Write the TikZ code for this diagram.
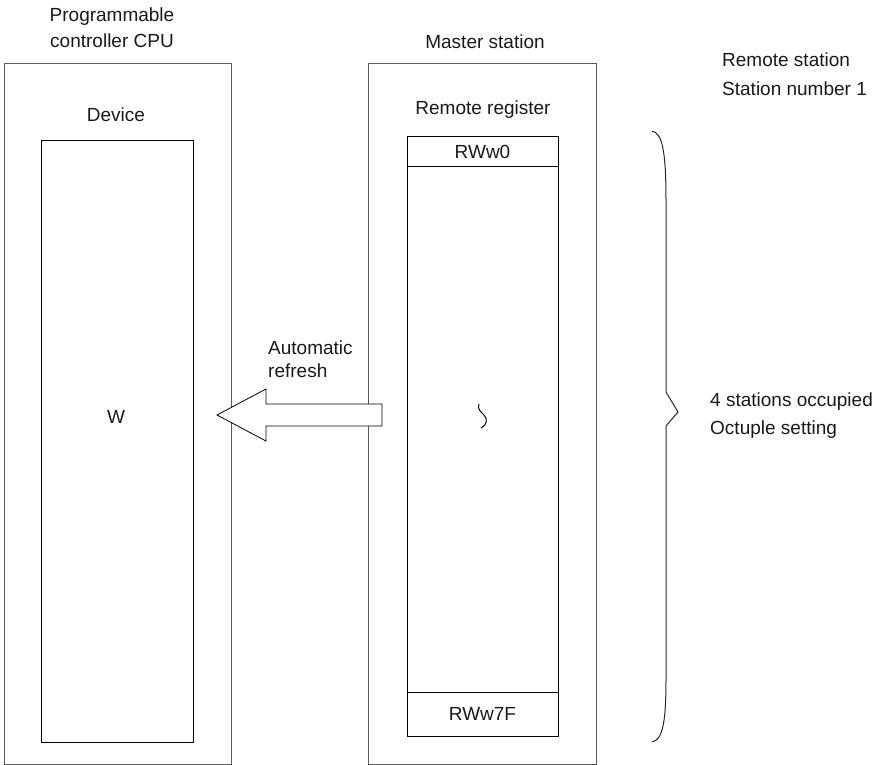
\documentclass[tikz,border=0pt]{standalone}
\usepackage{fontspec}
\setmainfont{Liberation Sans}
\begin{document}
\begin{tikzpicture}[x=1pt,y=-1pt,
  outerbox/.style={draw=black!65, line width=1pt, inner sep=0pt, outer sep=0pt},
  innerbox/.style={draw=black, line width=1pt, inner sep=0pt, outer sep=0pt},
  lbl/.style={font=\fontsize{19}{23}\selectfont, inner sep=0pt, text=black!90},
  thinline/.style={draw=black, line width=1pt}]
\useasboundingbox (0,0) rectangle (879,765);
% boxes
\node[outerbox, minimum width=227pt, minimum height=700pt] (cpu) at (117.5,414) {};
\node[outerbox, minimum width=228pt, minimum height=700pt] (master) at (482,414) {};
\node[innerbox, minimum width=152pt, minimum height=601pt] (dev) at (117,441.5) {};
\node[innerbox, minimum width=151pt, minimum height=599pt] (reg) at (482.5,436.5) {};
\coordinate (r0a) at (407,167); \coordinate (r0b) at (558,167);
\coordinate (r7a) at (407,692); \coordinate (r7b) at (558,692);
\draw[thinline] (r0a) -- (r0b);
\draw[thinline] (r7a) -- (r7b);
% texts
\node[lbl, align=center, font=\fontsize{19}{26}\selectfont] (cputitle) at (112,28) {Programmable\\controller CPU};
\node[lbl] (device) at (116,115) {Device};
\node[lbl] (w) at (116,417) {W};
\node[lbl] (mtitle) at (485,42) {Master station};
\node[lbl] (rr) at (483,110) {Remote register};
\node[lbl] (rw0) at (482.5,152) {RWw0};
\node[lbl] (rw7f) at (482.5,714) {RWw7F};
\node[lbl, align=left, anchor=west] (auto) at (268,359) {Automatic\\refresh};
\node[lbl, align=left, anchor=west, font=\fontsize{19}{29}\selectfont] (remote) at (722,74) {Remote station\\Station number 1};
\node[lbl, align=left, anchor=west, font=\fontsize{19}{28}\selectfont] (occ) at (710,416) {4 stations occupied\\Octuple setting};
% squiggle
\draw[line width=1pt] (479,404) .. controls (477,409) and (481,412) .. (484,415) .. controls (488,419) and (487,425) .. (481,428);
% block arrow
\draw[line width=0.8pt, fill=white] (217,415) -- (266,389) -- (266,404) -- (382,404) -- (382,426) -- (266,426) -- (266,441) -- cycle;
% brace
\draw[line width=1pt, black!85] (652,131) .. controls (662,133) and (666,150) .. (666,200) -- (666,392) -- (678,412) -- (666,426) -- (666,680) .. controls (666,725) and (662,740) .. (652,742);
\end{tikzpicture}
\end{document}
